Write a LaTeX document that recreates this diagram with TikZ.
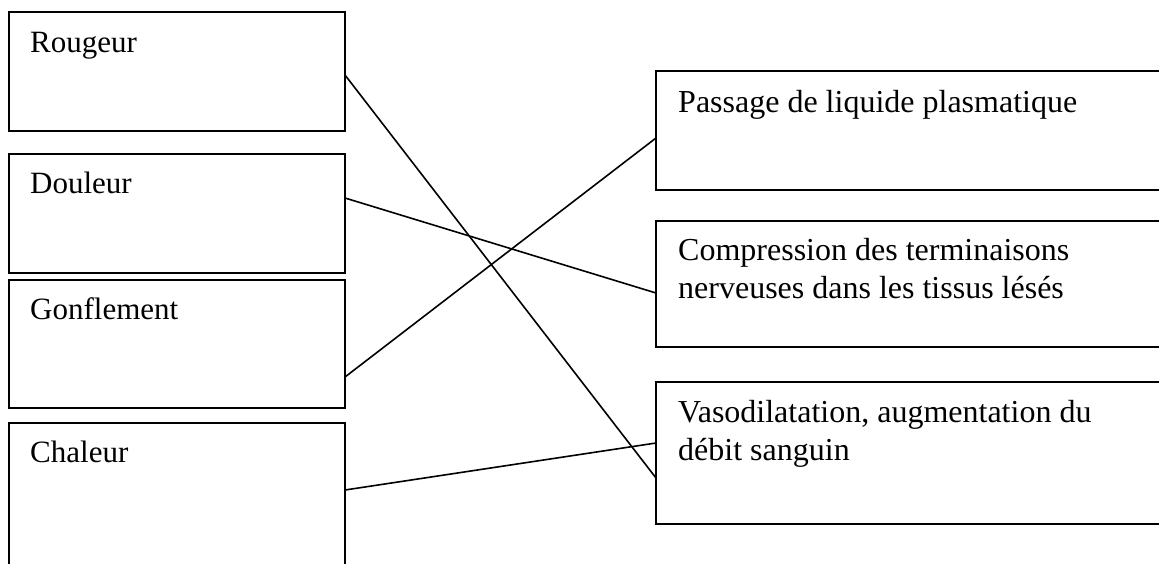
\documentclass[tikz,border=0pt]{standalone}
\usepackage{fontspec}
\setmainfont{Liberation Serif}
\usetikzlibrary{calc}
\begin{document}
\begin{tikzpicture}[x=1pt,y=-1pt,
  box/.style={draw=black,line width=1.8pt,rectangle,anchor=north west,inner sep=0pt,outer sep=0pt},
  lbox/.style={box,minimum width=336pt},
  rbox/.style={box,minimum width=560pt},
  ltext/.style={anchor=base west,inner sep=0pt,font=\fontsize{31}{36}\selectfont},
  rtext/.style={anchor=base west,inner sep=0pt,align=left,font=\fontsize{32}{38}\selectfont},
  link/.style={draw=black,line width=1.6pt}]
\useasboundingbox (0,0) rectangle (1159,563);
\clip (0,0) rectangle (1159,563);
% left boxes
\node[lbox,minimum height=119pt] (rou) at (9,12) {};
\node[lbox,minimum height=119pt] (dou) at (9,154) {};
\node[lbox,minimum height=128pt] (gon) at (9,280) {};
\node[lbox,minimum height=180pt] (cha) at (9,423) {};
\node[ltext] (trou) at ($(rou.north west)+(21,40)$) {Rougeur};
\node[ltext] (tdou) at ($(dou.north west)+(21,39)$) {Douleur};
\node[ltext] (tgon) at ($(gon.north west)+(21,39)$) {Gonflement};
\node[ltext] (tcha) at ($(cha.north west)+(21,39)$) {Chaleur};
% right boxes
\node[rbox,minimum height=119pt] (pas) at (656,71) {};
\node[rbox,minimum height=126pt] (com) at (656,221) {};
\node[rbox,minimum height=142pt] (vas) at (656,382) {};
\node[rtext] (tpas) at ($(pas.north west)+(22,41)$) {Passage de liquide plasmatique};
\node[rtext] (tcom) at ($(com.north west)+(22,77)$) {Compression des terminaisons\\nerveuses dans les tissus lésés};
\node[rtext] (tvas) at ($(vas.north west)+(22,78)$) {Vasodilatation, augmentation du\\débit sanguin};
% connectors
\draw[link] ($(rou.north east)+(0,63)$) -- ($(vas.north west)+(0,96)$);
\draw[link] ($(dou.north east)+(0,44)$) -- ($(com.north west)+(0,72)$);
\draw[link] ($(gon.north east)+(0,97)$) -- ($(pas.north west)+(0,67)$);
\draw[link] ($(cha.north east)+(0,67)$) -- ($(vas.north west)+(0,61)$);
\end{tikzpicture}
\end{document}
